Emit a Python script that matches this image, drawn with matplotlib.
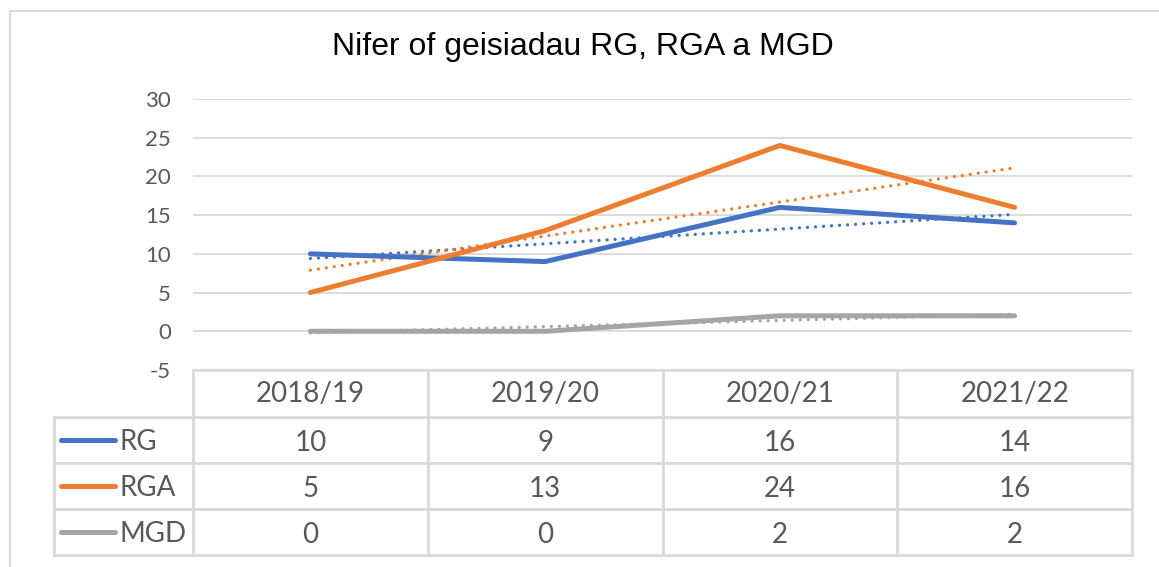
import numpy as np
import matplotlib.pyplot as plt
from matplotlib.lines import Line2D

# data
categories = ["2018/19", "2019/20", "2020/21", "2021/22"]
series_names = ["RG", "RGA", "MGD"]
rg = [10, 9, 16, 14]
rga = [5, 13, 24, 16]
mgd = [0, 0, 2, 2]
colors = ["#4472C4", "#ED7D31", "#A5A5A5"]
yticks = [-5, 0, 5, 10, 15, 20, 25, 30]

plt.rcParams["axes.unicode_minus"] = False

W, H = 1159, 567
fig = plt.figure(figsize=(W / 100, H / 100), dpi=100)

txt = "#595959"
grid = "#D9D9D9"
font = "Lato"

# pixel layout
left, right = 193, 1132
top, bottom = 99, 370
table_left = 54
row_edges = [370, 417, 463, 509, 555]

ax = fig.add_axes([left / W, 1 - bottom / H, (right - left) / W, (bottom - top) / H])
x = np.arange(1, len(categories) + 1)
ax.set_xlim(0.5, len(categories) + 0.5)
ax.set_ylim(-5, 30)
ax.set_yticks(yticks)
ax.set_xticks([])
ax.grid(axis="y", color=grid, lw=1.3)
ax.set_axisbelow(True)
for s in ax.spines.values():
    s.set_visible(False)
ax.tick_params(axis="y", length=0, pad=16, labelsize=16, labelcolor=txt)
for lab in ax.get_yticklabels():
    lab.set_fontfamily(font)
    lab.set_ha("right")

data = [rg, rga, mgd]
for vals, c in zip(data, colors):
    # linear trendline (Excel style)
    k, b = np.polyfit(x, vals, 1)
    ax.plot(x, k * x + b, color=c, lw=2.4, linestyle=(0, (0.01, 2.4)),
            dash_capstyle="round", zorder=2)
for vals, c in zip(data, colors):
    ax.plot(x, vals, color=c, lw=3.6, solid_capstyle="round",
            solid_joinstyle="round", zorder=3)

# overlay axes in pixel coordinates for table, title and border
ov = fig.add_axes([0, 0, 1, 1], facecolor="none")
ov.set_xlim(0, W)
ov.set_ylim(H, 0)
ov.axis("off")

lw_t = 2.0
# horizontal lines of table
ov.plot([left, right], [row_edges[0]] * 2, color=grid, lw=lw_t)
for yy in row_edges[1:]:
    ov.plot([table_left, right], [yy, yy], color=grid, lw=lw_t)
# vertical lines
ov.plot([table_left, table_left], [row_edges[1], row_edges[-1]], color=grid, lw=lw_t)
colw = (right - left) / len(categories)
for i in range(len(categories) + 1):
    xx = left + i * colw
    ov.plot([xx, xx], [row_edges[0], row_edges[-1]], color=grid, lw=lw_t)

fs_tab = 20
for i, cat in enumerate(categories):
    cx = left + (i + 0.5) * colw
    ov.text(cx, (row_edges[0] + row_edges[1]) / 2 + 1, cat, ha="center", va="center",
            fontsize=fs_tab, color=txt, family=font)
    for r, vals in enumerate(data):
        cy = (row_edges[r + 1] + row_edges[r + 2]) / 2 + 3
        ov.text(cx, cy, str(vals[i]), ha="center", va="center",
                fontsize=fs_tab, color=txt, family=font)

for r, (name, c) in enumerate(zip(series_names, colors)):
    cy = (row_edges[r + 1] + row_edges[r + 2]) / 2
    ov.add_line(Line2D([61, 115], [cy, cy], color=c, lw=3.6, solid_capstyle="round"))
    ov.text(119, cy + 2, name, ha="left", va="center", fontsize=fs_tab,
            color=txt, family=font)

# title
ov.text(583, 47, "Nifer of geisiadau RG, RGA a MGD", ha="center", va="center",
        fontsize=23, color="black", family="Liberation Sans")

# chart border
ov.plot([9.5, 9.5, W + 5], [H + 5, 10.5, 10.5], color=grid, lw=1.5)

fig.savefig("out.png", dpi=100)
